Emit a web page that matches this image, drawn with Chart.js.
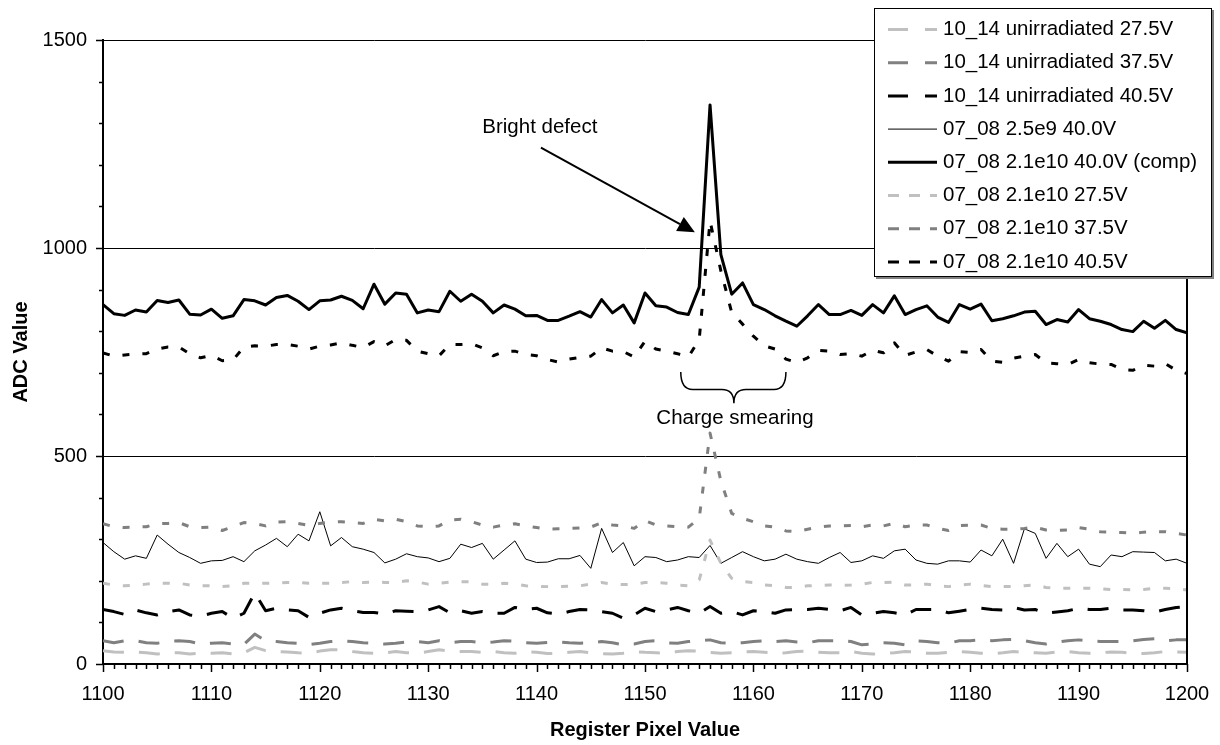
<!DOCTYPE html>
<html>
<head>
<meta charset="utf-8">
<script src="https://cdn.jsdelivr.net/npm/chart.js@4.4.1/dist/chart.umd.min.js"></script>
<style>
  body { margin: 0; background: #fff; }
  canvas { display: block; }
</style>
</head>
<body>
<canvas id="chart" width="1220" height="745"></canvas>
<script>
// register pixels 1100..1200
const firstPixel = 1100;
const lastPixel = 1200;

const seriesNames = [
    '10_14 unirradiated 27.5V',
    '10_14 unirradiated 37.5V',
    '10_14 unirradiated 40.5V',
    '07_08 2.5e9 40.0V',
    '07_08 2.1e10 40.0V (comp)',
    '07_08 2.1e10 27.5V',
    '07_08 2.1e10 37.5V',
    '07_08 2.1e10 40.5V'
];

const unirr275 = [
    32, 29, 28, 29, 27, 24, 27, 27, 24, 26, 26, 27, 24, 27, 40, 32, 30, 29, 27, 26, 31, 34, 34, 30, 27, 26, 27, 30, 27, 26, 30, 34, 31, 30, 30,
    28, 30, 27, 26, 30, 28, 25, 26, 28, 30, 27, 25, 24, 26, 30, 28, 27, 26, 30, 32, 31, 28, 26, 27, 29, 30, 28, 26, 27, 30, 31, 28, 27,
    27, 30, 26, 24, 25, 27, 30, 29, 26, 26, 28, 30, 28, 26, 25, 27, 30, 28, 27, 26, 29, 30, 27, 26, 27, 29, 28, 26, 25, 27, 30, 29, 28
];
const unirr375 = [
    56, 51, 56, 56, 51, 50, 54, 56, 54, 48, 50, 51, 48, 47, 72, 56, 54, 51, 50, 47, 50, 54, 56, 54, 51, 50, 48, 50, 53, 54, 51, 56, 51, 54, 54,
    51, 53, 56, 55, 51, 50, 52, 53, 51, 50, 51, 54, 51, 46, 48, 54, 56, 51, 50, 54, 56, 58, 51, 50, 51, 54, 56, 54, 56, 53, 51, 56, 56,
    56, 54, 46, 48, 51, 50, 46, 56, 54, 51, 50, 56, 56, 58, 56, 58, 59, 56, 51, 48, 53, 56, 58, 56, 54, 54, 54, 56, 59, 61, 56, 58, 58
];
const unirr405 = [
    131, 126, 119, 130, 123, 118, 126, 130, 118, 115, 122, 126, 110, 122, 171, 128, 134, 130, 128, 112, 122, 130, 134, 128, 124, 124, 120, 128, 127, 126, 130, 138, 123, 128, 122,
    126, 122, 122, 136, 131, 134, 123, 120, 126, 131, 130, 126, 122, 110, 118, 134, 126, 130, 136, 128, 122, 138, 122, 126, 118, 128, 126, 122, 130, 131, 131, 134, 131,
    128, 136, 118, 122, 126, 123, 118, 131, 131, 131, 123, 127, 131, 134, 131, 130, 136, 130, 131, 122, 125, 128, 134, 131, 131, 134, 130, 130, 128, 125, 131, 136, 138
];
const irr25e9 = [
    292, 270, 252, 260, 254, 310, 288, 268, 256, 242, 248, 249, 258, 246, 272, 286, 302, 282, 312, 296, 366, 284, 304, 282, 276, 268, 243, 252, 265, 258, 255, 246, 254, 288, 280,
    290, 252, 274, 296, 252, 244, 245, 253, 253, 261, 230, 326, 268, 292, 236, 258, 256, 246, 250, 258, 256, 285, 242, 256, 270, 258, 248, 252, 264, 252, 246, 242, 256,
    268, 244, 248, 260, 254, 272, 276, 250, 242, 240, 248, 248, 245, 274, 260, 300, 242, 325, 314, 254, 290, 258, 276, 240, 234, 262, 258, 270, 269, 268, 248, 252, 242
];
const irrComp = [
    864, 842, 838, 851, 846, 874, 869, 875, 841, 839, 853, 831, 837, 876, 873, 863, 881, 886, 872, 852, 873, 875, 884, 874, 854, 913, 865, 892, 889, 844, 851, 847, 896, 872, 889,
    872, 844, 863, 853, 837, 838, 826, 826, 836, 847, 834, 876, 844, 863, 820, 892, 861, 858, 845, 840, 906, 1344, 984, 889, 916, 864, 852, 837, 824, 812, 837, 864, 840,
    840, 850, 838, 864, 844, 885, 840, 852, 861, 834, 821, 864, 853, 865, 825, 830, 837, 846, 848, 816, 828, 822, 852, 830, 824, 816, 804, 799, 824, 807, 826, 804, 796
];
const irr275 = [
    194, 190, 188, 190, 192, 194, 194, 194, 190, 188, 188, 186, 188, 194, 194, 194, 194, 196, 196, 194, 194, 194, 196, 198, 196, 197, 196, 196, 200, 197, 192, 194, 197, 198, 198,
    192, 192, 194, 192, 188, 187, 186, 186, 187, 188, 192, 196, 192, 191, 192, 196, 196, 194, 190, 188, 202, 298, 242, 206, 198, 196, 190, 188, 184, 184, 188, 189, 190,
    189, 190, 192, 196, 196, 197, 190, 190, 192, 188, 186, 189, 192, 189, 186, 186, 186, 188, 190, 184, 182, 182, 182, 182, 181, 179, 179, 178, 179, 182, 182, 181, 178
];
const irr375 = [
    337, 330, 328, 329, 330, 337, 338, 340, 330, 328, 329, 321, 330, 340, 338, 332, 341, 342, 338, 333, 338, 341, 342, 340, 338, 348, 344, 348, 342, 332, 330, 332, 346, 348, 342,
    334, 329, 334, 337, 332, 328, 324, 325, 326, 327, 329, 340, 334, 332, 326, 345, 334, 332, 330, 329, 350, 555, 440, 362, 350, 342, 332, 329, 320, 318, 324, 329, 332,
    332, 333, 330, 334, 332, 338, 330, 334, 334, 326, 321, 333, 334, 334, 326, 324, 324, 326, 329, 322, 321, 322, 328, 324, 318, 317, 316, 314, 317, 318, 318, 314, 310
];
const irr405 = [
    748, 740, 743, 745, 746, 757, 762, 762, 746, 736, 742, 729, 731, 762, 765, 764, 768, 768, 764, 757, 764, 767, 772, 766, 761, 775, 765, 780, 778, 752, 746, 741, 768, 768, 770,
    760, 741, 751, 752, 744, 741, 732, 726, 733, 737, 740, 760, 752, 751, 738, 776, 757, 752, 746, 738, 780, 1065, 945, 845, 817, 788, 765, 757, 733, 725, 736, 754, 752,
    744, 746, 740, 754, 748, 772, 742, 750, 756, 740, 728, 751, 749, 756, 728, 725, 735, 740, 744, 724, 722, 720, 732, 724, 721, 720, 708, 706, 718, 716, 722, 706, 698
];

const yTicks = [0, 500, 1000, 1500];

const LIGHT = '#c0c0c0';
const MID = '#808080';
const DARK = '#000000';
const FONT = '"Liberation Sans", Arial, sans-serif';

// colour, width, dash in plot, dash in legend
const styles = [
    { color: LIGHT, width: 3, dash: [21, 15], legendDash: [20, 17] },
    { color: MID,   width: 3, dash: [21, 15], legendDash: [20, 17] },
    { color: DARK,  width: 3, dash: [21, 15], legendDash: [20, 17] },
    { color: DARK,  width: 1, dash: [],       legendDash: [] },
    { color: DARK,  width: 3, dash: [],       legendDash: [] },
    { color: LIGHT, width: 3, dash: [7, 13],  legendDash: [11, 10] },
    { color: MID,   width: 3, dash: [7, 13],  legendDash: [11, 10] },
    { color: DARK,  width: 3, dash: [7, 13],  legendDash: [11, 10] }
];

const allValues = [unirr275, unirr375, unirr405, irr25e9, irrComp, irr275, irr375, irr405];

function toPoints(values) {
    return values.map((v, i) => ({ x: firstPixel + i, y: v }));
}

const datasets = allValues.map((values, i) => ({
    label: seriesNames[i],
    data: toPoints(values),
    borderColor: styles[i].color,
    borderWidth: styles[i].width,
    borderDash: styles[i].dash,
    borderCapStyle: 'butt',
    borderJoinStyle: 'round',
    pointRadius: 0,
    tension: 0,
    fill: false,
    order: allValues.length - i // later series on top, like the original
}));

const tickMarks = { // small tick marks on both axes + right frame line
    id: 'tickMarks',
    afterDatasetsDraw(chart) {
        const ctx = chart.ctx;
        const area = chart.chartArea;
        const xs = chart.scales.x;
        const ys = chart.scales.y;
        ctx.save();
        ctx.strokeStyle = '#000';
        ctx.lineWidth = 1.5;
        ctx.beginPath();
        for (let v = 0; v <= 1500; v += 100) {
            const py = Math.round(ys.getPixelForValue(v)) + 0.5;
            const len = v % 500 === 0 ? 7 : 4;
            ctx.moveTo(area.left - len, py);
            ctx.lineTo(area.left, py);
        }
        for (let p = firstPixel; p <= lastPixel; p++) {
            const px = Math.round(xs.getPixelForValue(p)) + 0.5;
            const len = p % 10 === 0 ? 8 : 5;
            ctx.moveTo(px, area.bottom);
            ctx.lineTo(px, area.bottom + len);
        }
        ctx.stroke();
        ctx.lineWidth = 2;
        ctx.beginPath();
        ctx.moveTo(area.right, area.top);
        ctx.lineTo(area.right, area.bottom);
        ctx.stroke();
        ctx.restore();
    }
};

const notes = { // "Bright defect" arrow and the "Charge smearing" brace
    id: 'notes',
    afterDatasetsDraw(chart) {
        const ctx = chart.ctx;
        const X = v => chart.scales.x.getPixelForValue(v);
        const Y = v => chart.scales.y.getPixelForValue(v);
        ctx.save();
        ctx.fillStyle = '#000';
        ctx.strokeStyle = '#000';
        ctx.font = '20.5px ' + FONT;
        ctx.textAlign = 'center';
        ctx.textBaseline = 'middle';
        ctx.fillText('Bright defect', X(1140.3), Y(1290));

        const x0 = X(1140.4), y0 = Y(1241);
        const x1 = X(1154.6), y1 = Y(1038);
        const ang = Math.atan2(y1 - y0, x1 - x0);
        const headLen = 17, headW = 8;
        const bx = x1 - headLen * Math.cos(ang), by = y1 - headLen * Math.sin(ang);
        ctx.lineWidth = 2;
        ctx.beginPath();
        ctx.moveTo(x0, y0);
        ctx.lineTo(bx, by);
        ctx.stroke();
        ctx.beginPath();
        ctx.moveTo(x1, y1);
        ctx.lineTo(bx + headW * Math.sin(ang), by - headW * Math.cos(ang));
        ctx.lineTo(bx - headW * Math.sin(ang), by + headW * Math.cos(ang));
        ctx.closePath();
        ctx.fill();

        // curly brace
        const L = X(1153.3), R = X(1163.0), C = X(1158.2);
        const top = Y(702), bot = Y(660), tip = Y(627);
        const r = 12;
        ctx.lineWidth = 1.5;
        ctx.beginPath();
        ctx.moveTo(L, top);
        ctx.quadraticCurveTo(L, bot, L + r, bot);
        ctx.lineTo(C - r, bot);
        ctx.quadraticCurveTo(C, bot, C, tip);
        ctx.moveTo(C, tip);
        ctx.quadraticCurveTo(C, bot, C + r, bot);
        ctx.lineTo(R - r, bot);
        ctx.quadraticCurveTo(R, bot, R, top);
        ctx.stroke();

        ctx.textBaseline = 'alphabetic';
        ctx.fillText('Charge smearing', X(1158.3), Y(578));
        ctx.restore();
    }
};

const boxLegend = { // legend box drawn on top of the plot, top right
    id: 'boxLegend',
    afterDraw(chart) {
        const ctx = chart.ctx;
        const left = 874, top = 8, w = 338, h = 269;
        ctx.save();
        ctx.fillStyle = '#808080';
        ctx.fillRect(left + 2, top + 2, w, h); // shadow
        ctx.fillStyle = '#fff';
        ctx.fillRect(left, top, w, h);
        ctx.strokeStyle = '#000';
        ctx.lineWidth = 1;
        ctx.strokeRect(left + 0.5, top + 0.5, w - 1, h - 1);
        ctx.font = '20.5px ' + FONT;
        ctx.textAlign = 'left';
        ctx.textBaseline = 'middle';
        seriesNames.forEach((name, i) => {
            const y = 29.5 + i * 33.2;
            const s = styles[i];
            ctx.strokeStyle = s.color;
            ctx.lineWidth = s.width;
            ctx.setLineDash(s.legendDash);
            ctx.beginPath();
            ctx.moveTo(888, y);
            ctx.lineTo(937, y);
            ctx.stroke();
            ctx.setLineDash([]);
            ctx.fillStyle = '#000';
            ctx.fillText(name, 943, y);
        });
        ctx.restore();
    }
};

const axisTitles = {
    id: 'axisTitles',
    afterDraw(chart) {
        const ctx = chart.ctx;
        const area = chart.chartArea;
        ctx.save();
        ctx.fillStyle = '#000';
        ctx.font = 'bold 20px ' + FONT;
        ctx.textAlign = 'center';
        ctx.textBaseline = 'middle';
        ctx.fillText('Register Pixel Value', (area.left + area.right) / 2, 730);
        ctx.translate(21, (area.top + area.bottom) / 2);
        ctx.rotate(-Math.PI / 2);
        ctx.fillText('ADC Value', 0, 0);
        ctx.restore();
    }
};

new Chart(document.getElementById('chart'), {
    type: 'line',
    data: { datasets: datasets },
    plugins: [tickMarks, notes, boxLegend, axisTitles],
    options: {
        responsive: false,
        animation: false,
        devicePixelRatio: 1,
        layout: { padding: { top: 40, right: 33, bottom: 0, left: 0 } },
        plugins: {
            legend: { display: false },
            tooltip: { enabled: false }
        },
        scales: {
            x: {
                type: 'linear',
                min: firstPixel,
                max: lastPixel,
                afterFit: scale => {
                    scale.height = 81;
                    scale.paddingLeft = 0;
                    scale.paddingRight = 0;
                },
                ticks: {
                    stepSize: 10,
                    color: '#000',
                    font: { family: FONT, size: 20 },
                    padding: 18,
                    maxRotation: 0,
                    callback: v => String(v)
                },
                grid: { drawOnChartArea: false, drawTicks: false },
                border: { color: '#000', width: 2 }
            },
            y: {
                min: 0,
                max: 1500,
                afterFit: scale => {
                    scale.width = 103;
                    scale.paddingTop = 0;
                    scale.paddingBottom = 0;
                },
                afterBuildTicks: scale => { scale.ticks = yTicks.map(v => ({ value: v })); },
                ticks: {
                    color: '#000',
                    font: { family: FONT, size: 20 },
                    padding: 16,
                    callback: v => String(v)
                },
                grid: {
                    color: c => (c.tick && c.tick.value === 0 ? 'rgba(0,0,0,0)' : '#000'),
                    lineWidth: 1,
                    drawTicks: false
                },
                border: { color: '#000', width: 2 }
            }
        }
    }
});
</script>
</body>
</html>
